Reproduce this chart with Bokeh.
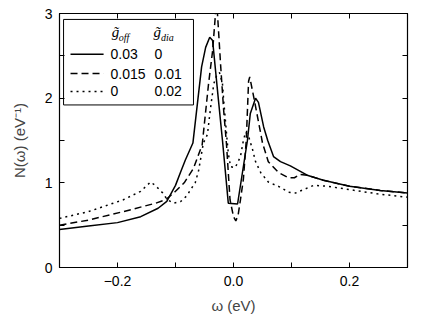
from bokeh.plotting import figure
from bokeh.models import Range1d, FixedTicker, LinearAxis, BoxAnnotation
from bokeh.core.properties import value
from bokeh.embed import file_html
from bokeh.resources import INLINE

# ---- data ----
solid_x = [-0.30, -0.25, -0.20, -0.16, -0.13, -0.115, -0.10, -0.091, -0.083, -0.070, -0.055,
           -0.048, -0.041, -0.036, -0.026, -0.019, -0.009, 0.007, 0.024, 0.029, 0.038, 0.043,
           0.052, 0.059, 0.069, 0.081, 0.098, 0.127, 0.155, 0.20, 0.253, 0.30]
solid_y = [0.45, 0.49, 0.53, 0.60, 0.70, 0.78, 0.97, 1.13, 1.27, 1.47, 2.37,
           2.60, 2.72, 2.68, 1.98, 1.50, 0.76, 0.75, 1.50, 1.82, 2.00, 1.95,
           1.66, 1.50, 1.31, 1.25, 1.20, 1.09, 1.03, 0.96, 0.91, 0.88]

dash_x = [-0.30, -0.25, -0.19, -0.134, -0.117, -0.10, -0.085, -0.069, -0.054, -0.043, -0.036,
          -0.031, -0.029, -0.022, -0.017, -0.012, -0.006, 0.0, 0.004, 0.008, 0.012, 0.017,
          0.022, 0.026, 0.028, 0.035, 0.047, 0.050, 0.060, 0.078, 0.095, 0.105, 0.115,
          0.127, 0.155, 0.20, 0.253, 0.30]
dash_y = [0.50, 0.56, 0.66, 0.76, 0.80, 0.90, 1.00, 1.17, 1.45, 2.17, 2.56,
          3.00, 3.15, 2.37, 1.86, 1.45, 0.80, 0.60, 0.55, 0.62, 0.80, 1.04,
          1.50, 2.20, 2.25, 2.01, 1.58, 1.47, 1.25, 1.12, 1.06, 1.06, 1.10,
          1.09, 1.03, 0.96, 0.91, 0.88]

dot_x = [-0.30, -0.25, -0.19, -0.16, -0.143, -0.135, -0.122, -0.114, -0.103, -0.091, -0.080,
         -0.074, -0.066, -0.060, -0.052, -0.045, -0.040, -0.034, -0.028, -0.024, -0.019,
         -0.017, -0.011, -0.009, -0.005, 0.003, 0.012, 0.017, 0.021, 0.026, 0.033, 0.038,
         0.047, 0.060, 0.080, 0.095, 0.107, 0.138, 0.162, 0.20, 0.248, 0.30]
dot_y = [0.58, 0.66, 0.80, 0.90, 1.01, 0.97, 0.88, 0.80, 0.76, 0.78, 0.85,
         0.92, 1.00, 1.15, 1.47, 1.57, 1.86, 2.17, 2.29, 2.30, 2.17,
         1.98, 1.50, 1.35, 1.19, 1.18, 1.31, 1.50, 1.60, 1.55, 1.39, 1.25,
         1.12, 1.01, 0.95, 0.89, 0.88, 0.97, 0.96, 0.92, 0.87, 0.83]

g_off = ["0.03", "0.015", "0"]
g_dia = ["0", "0.01", "0.02"]
dashes = ["solid", "7 4", "2 4"]

x_ticks = [-0.2, 0.0, 0.2]
x_minor = [-0.3, -0.1, 0.1, 0.3]
x_labels = {-0.2: "\u22120.2", 0.0: "0.0", 0.2: "0.2"}
y_ticks = [0, 1, 2, 3]
y_minor = [0.5, 1.5, 2.5]

FONT = "Liberation Sans"

p = figure(width=416, height=316, output_backend="svg", toolbar_location=None,
           x_range=Range1d(-0.3, 0.3), y_range=Range1d(0, 3),
           min_border_left=59, min_border_right=9, min_border_top=13, min_border_bottom=48)
p.background_fill_color = "white"
p.border_fill_color = "white"
p.outline_line_color = "black"
p.outline_line_width = 1.2
p.grid.visible = False

def style_axis(ax):
    ax.axis_line_color = "black"
    ax.major_tick_in = 5
    ax.major_tick_out = 0
    ax.minor_tick_in = 5
    ax.minor_tick_out = 0
    ax.major_tick_line_color = "black"
    ax.minor_tick_line_color = "black"
    ax.major_label_text_font = FONT
    ax.major_label_text_font_size = "14px"
    ax.major_label_text_color = "black"

xb = p.xaxis[0]
xb.ticker = FixedTicker(ticks=x_ticks, minor_ticks=x_minor)
xb.major_label_overrides = x_labels
style_axis(xb)
xb.major_label_standoff = 8
xb.axis_label = "\u03c9 (eV)"
xb.axis_label_text_font = FONT
xb.axis_label_text_font_style = "normal"
xb.axis_label_text_font_size = "15px"
xb.axis_label_standoff = 8

yl = p.yaxis[0]
yl.ticker = FixedTicker(ticks=y_ticks, minor_ticks=y_minor)
style_axis(yl)
yl.major_label_standoff = 7
yl.axis_label = "N(\u03c9) (eV\u207b\u00b9)"
yl.axis_label_text_font = FONT
yl.axis_label_text_font_style = "normal"
yl.axis_label_text_font_size = "15px"
yl.axis_label_standoff = 14

# tick-only axes on top and right (no labels)
xt = LinearAxis(ticker=FixedTicker(ticks=[], minor_ticks=x_ticks + x_minor))
style_axis(xt)
p.add_layout(xt, "above")
yr = LinearAxis(ticker=FixedTicker(ticks=[], minor_ticks=y_ticks + y_minor))
style_axis(yr)
p.add_layout(yr, "right")

p.line(solid_x, solid_y, line_color="black", line_width=1.5)
p.line(dash_x, dash_y, line_color="black", line_width=1.5, line_dash=dashes[1])
p.line(dot_x, dot_y, line_color="black", line_width=1.5, line_dash=dashes[2])

# ---- legend (drawn by hand) ----
p.add_layout(BoxAnnotation(left=-0.293, right=-0.069, top=2.93, bottom=1.92,
                           fill_color="white", fill_alpha=1.0,
                           line_color="black", line_alpha=1.0, line_width=1,
                           level="underlay"))
row_y = [2.52, 2.29, 2.08]
for i in range(3):
    p.line([-0.281, -0.224], [row_y[i], row_y[i]], line_color="black", line_width=1.5,
           line_dash=dashes[i])
p.text(x=[-0.212] * 3, y=row_y, text=g_off, text_font=value(FONT), text_font_size="14px",
       text_align="left", text_baseline="middle", text_color="black")
p.text(x=[-0.136] * 3, y=row_y, text=g_dia, text_font=value(FONT), text_font_size="14px",
       text_align="left", text_baseline="middle", text_color="black")
# header: g-tilde with subscripts
p.text(x=[-0.210, -0.138], y=[2.78, 2.78], text=["g\u0303", "g\u0303"],
       text_font=value("Liberation Serif"), text_font_style="italic", text_font_size="15px",
       text_align="left", text_baseline="middle", text_color="black")
p.text(x=[-0.198, -0.125], y=[2.72, 2.72], text=["off", "dia"],
       text_font=value("Liberation Serif"), text_font_style="italic", text_font_size="10px",
       text_align="left", text_baseline="middle", text_color="black")

open("out.html", "w").write(file_html(p, INLINE))
